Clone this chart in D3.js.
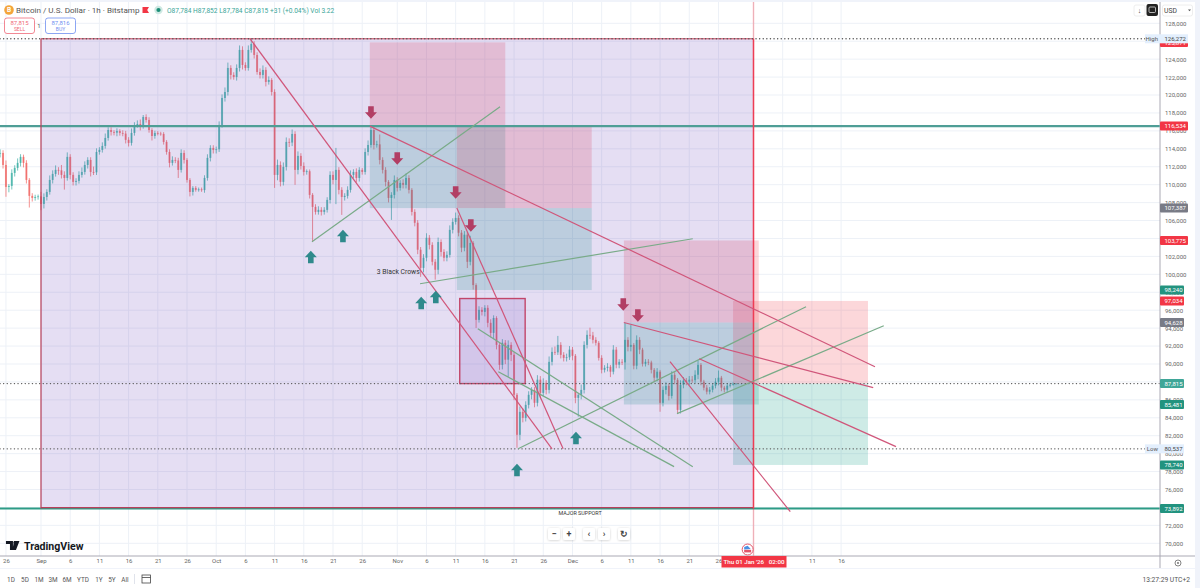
<!DOCTYPE html>
<html>
<head>
<meta charset="utf-8">
<script src="https://cdn.jsdelivr.net/npm/d3@7"></script>
<style>
  html, body { margin: 0; padding: 0; background: #f0f3fa; overflow: hidden; }
  svg { display: block; font-family: Roboto, sans-serif; }
</style>
</head>
<body>
<svg id="chart" width="1200" height="588"></svg>
<script>
// 12h candles starting 25 Aug
const firstDay = -7;
const stepDays = 0.5;
const closes = [
  113540,112200,109750,109860,111310,111870,112430,113100,112430,110530,
  108750,108520,108630,108700,107850,108630,109190,110530,111200,111650,
  111600,111090,110750,113100,111090,110310,110420,111090,111420,112200,
  112760,111420,111380,113650,113880,114320,115210,116100,115880,115800,
  115990,115770,115700,115000,114660,115770,116660,116770,116550,117550,
  117220,116100,115430,115770,115700,115660,114770,113650,112430,112760,
  112700,111650,113540,112760,110530,109190,109640,109420,109480,109400,
  110750,112990,114100,113880,113950,116660,119670,120340,123020,122240,
  122010,123020,125030,123350,123020,125030,125700,124470,122570,122240,
  122800,121460,121680,120340,111090,112200,110310,111980,114770,114700,
  115660,111650,113210,112090,111420,111500,108860,107520,106960,107190,
  106960,107190,108300,111090,110530,111650,109420,108630,108750,109420,
  111090,111420,110750,111650,111420,113650,114430,116100,114430,114500,
  112760,111650,110310,108520,108860,110530,109640,110200,109980,110750,
  109420,106960,105750,102745,100720,101850,104080,103280,101400,100510,
  103600,102500,101850,102170,104960,105850,106290,104640,102970,104420,
  101400,103500,98800,94920,96040,95810,96260,94590,93470,95130,
  92130,89900,92370,90480,92130,91020,86560,82100,84660,83990,
  85440,86560,87110,85670,88250,86780,87900,87110,90240,91350,
  91300,92130,91020,90680,90750,91600,90910,86220,86560,87110,
  92130,93250,93180,92690,92360,90680,89350,89570,89690,89140,
  91600,89920,90240,90180,92690,91910,92130,89810,92690,91600,
  90020,90240,90170,89350,88470,89140,85670,87110,87560,86440,
  88790,88240,84880,87690,88140,88030,88250,88190,88800,89900,
  88030,87360,86910,87130,87580,88020,88470,87360,87130,87580,
  87690,87800,87815
];
const wickUp = [
  400,300,500,200,400,300,500,300,250,300,
  200,300,250,200,500,400,300,500,400,500,
  300,600,400,500,300,300,300,400,500,400,
  300,300,600,400,300,400,500,300,300,200,
  300,200,300,300,300,500,300,400,500,220,
  300,300,200,250,200,200,200,200,300,400,
  300,300,400,300,200,200,200,200,200,200,
  300,400,300,300,300,400,400,500,600,300,
  300,400,500,400,300,500,570,300,300,400,
  500,300,400,200,300,600,400,500,500,400,
  500,300,500,300,400,200,200,200,300,400,
  300,300,300,400,400,2450,300,300,300,400,
  500,300,400,300,200,400,500,300,400,400,
  1100,300,300,200,300,500,300,300,400,500,
  300,200,300,300,300,400,500,300,300,300,
  500,300,300,400,500,400,600,300,300,400,
  300,800,200,200,400,300,300,300,400,300,
  200,200,400,300,500,300,300,200,600,400,
  400,400,300,300,500,400,500,300,600,500,
  600,1000,300,300,400,400,300,200,200,600,
  400,500,800,400,300,200,300,300,400,200,
  500,300,300,300,1900,300,2200,200,500,300,
  200,300,300,200,200,400,200,400,400,300,
  400,300,200,500,400,300,400,400,500,500,
  200,200,300,300,300,400,800,200,200,300,
  200,150,40
];
const wickDown = [
  500,400,1100,600,400,400,300,400,500,400,
  1300,400,300,300,700,500,400,300,400,300,
  500,400,1300,300,500,400,400,300,300,300,
  400,500,300,300,300,300,300,300,400,300,
  400,300,300,400,400,300,300,300,500,300,
  300,300,500,300,200,200,300,300,500,300,
  300,900,300,400,300,500,400,200,200,200,
  300,300,400,400,400,300,300,400,400,500,
  300,400,400,500,300,300,300,400,300,400,
  400,500,300,400,1450,600,500,400,400,500,
  400,1670,500,400,400,300,400,3900,300,300,
  400,300,300,400,500,2700,500,2000,400,300,
  300,400,500,400,300,300,400,300,500,300,
  500,400,500,500,2450,400,400,300,400,400,
  400,400,400,500,1000,500,400,500,400,1100,
  500,500,400,400,300,400,300,400,500,400,
  700,400,500,900,300,400,500,500,500,700,
  500,550,500,500,1900,700,600,1450,600,500,
  400,400,500,500,400,600,400,500,400,400,
  300,300,400,400,400,300,500,600,2100,500,
  400,400,400,400,300,300,400,300,400,600,
  300,400,400,300,800,500,500,400,400,500,
  300,300,300,400,500,400,1000,400,500,500,
  300,500,400,400,400,400,400,300,300,500,
  400,300,300,300,300,300,400,400,300,300,
  200,100,40
];

// drawn objects, days are counted from 1 Sep, [day, price, day, price]
const redLines = [
  [35.8, 126272, 87.5, 80537],
  [71.2, 107387, 89.4, 80537],
  [56.3, 116534, 142.8, 89700],
  [99.8, 94628, 142.5, 87360],
  [112.7, 90590, 146.4, 80780],
  [107.7, 90260, 128.3, 73530]
];
const greenLines = [
  [46.4, 103640, 78.6, 118690],
  [64.9, 98950, 111.6, 103970],
  [74.8, 93940, 111.6, 78550],
  [78.3, 89140, 108.4, 78550],
  [81.7, 80537, 131, 96390],
  [108.9, 84460, 144.3, 94270]
];
// [start day, end day, stop price, entry price, target price]
const shortPositions = [
  [56.3, 79.5, 125871, 116534, 107387],
  [71.2, 94.3, 116534, 107387, 98240],
  [99.8, 122.9, 103775, 94628, 85481],
  [118.5, 141.6, 97034, 87815, 78740]
];
const downArrows = [[56.5, 118020], [61, 112890], [71, 109100], [73.6, 105420], [99.7, 96610], [102.2, 95390]];
const upArrows = [[46.2, 101970], [51.7, 104310], [65.1, 96840], [67.6, 97500], [81.5, 78210], [91.6, 81780]];

const priceTicks = d3.range(70000, 128001, 2000);
const dayTicks = [-6, 0, 5, 10, 15, 20, 25, 30, 35, 40, 45, 50, 55, 61, 66, 71, 76, 81, 86, 91, 96, 101, 106, 111, 116, 122, 127, 132, 137];
// Jan and its 6 sit under the crosshair label in the picture
const dayLabels = ['26', 'Sep', '6', '11', '16', '21', '26', 'Oct', '6', '11', '16', '21', '26', 'Nov', '6', '11', '16', '21', '26', 'Dec', '6', '11', '16', '21', '26', '', '', '11', '16'];
// price flags on the right axis [price, kind]
const priceFlags = [
  [125871, 'red'], [116534, 'red'], [107387, 'grey'], [103775, 'red'], [98240, 'green'],
  [97034, 'red'], [94628, 'grey'], [87815, 'last'], [85481, 'green'], [78740, 'green'], [73892, 'green']
];
const rangeLabels = ['1D', '5D', '1M', '3M', '6M', 'YTD', '1Y', '5Y', 'All'];
const rangeX = [11, 25, 39, 53, 67, 83, 99, 112, 125];

const highPrice = 126272, lowPrice = 80537, lastPrice = 87815;
const supportTop = 116534, supportBottom = 73892;
const boxDays = [0, 122];
const squareDays = [71.7, 82.9];
const squarePrices = [87815, 97300];

const paneRight = 1160, paneBottom = 556;
const x = d3.scaleLinear().domain([0, 122]).range([41, 753.5]);
const y = d3.scaleLinear().domain([70000, 128000]).range([543.3, 23.3]);
const fmt = d3.format(',');

const svg = d3.select('#chart');
svg.append('rect').attr('x', 0).attr('y', 2).attr('width', 1195).attr('height', 586).attr('fill', '#fff');

const defs = svg.append('defs');
defs.append('clipPath').attr('id', 'pane').append('rect')
  .attr('x', 0).attr('y', 0).attr('width', paneRight).attr('height', paneBottom);
defs.append('filter').attr('id', 'soft').append('feDropShadow')
  .attr('dx', 0).attr('dy', 0.5).attr('stdDeviation', 1).attr('flood-color', '#000').attr('flood-opacity', 0.2);

const pane = svg.append('g').attr('clip-path', 'url(#pane)');

// grid
const gridColor = '#edf1f7';
pane.append('g').selectAll('line').data(priceTicks).enter().append('line')
  .attr('x1', 0).attr('x2', paneRight)
  .attr('y1', d => y(d)).attr('y2', d => y(d))
  .attr('stroke', gridColor);
pane.append('g').selectAll('line').data(dayTicks).enter().append('line')
  .attr('x1', d => x(d)).attr('x2', d => x(d))
  .attr('y1', 2).attr('y2', paneBottom)
  .attr('stroke', gridColor);

// candles
const candles = closes.map((c, i) => {
  const open = i ? closes[i - 1] : c;
  return {
    day: firstDay + i * stepDays,
    open,
    close: c,
    high: Math.max(open, c) + wickUp[i],
    low: Math.min(open, c) - wickDown[i]
  };
});
const candleColor = d => d.close >= d.open ? '#26a69a' : '#ef5350';
const candleGroup = pane.append('g');
candleGroup.selectAll('line').data(candles).enter().append('line')
  .attr('x1', d => x(d.day)).attr('x2', d => x(d.day))
  .attr('y1', d => y(d.high)).attr('y2', d => y(d.low))
  .attr('stroke', candleColor).attr('stroke-width', 0.9).attr('opacity', 0.7);
candleGroup.selectAll('rect').data(candles).enter().append('rect')
  .attr('x', d => x(d.day) - 1).attr('width', 2)
  .attr('y', d => y(Math.max(d.open, d.close)))
  .attr('height', d => Math.max(0.8, Math.abs(y(d.open) - y(d.close))))
  .attr('fill', candleColor).attr('opacity', 0.6);

// short positions, they lie under the purple box
shortPositions.forEach(p => {
  pane.append('rect')
    .attr('x', x(p[0])).attr('width', x(p[1]) - x(p[0]))
    .attr('y', y(p[2])).attr('height', y(p[3]) - y(p[2]))
    .attr('fill', 'rgba(242,54,69,0.2)');
  pane.append('rect')
    .attr('x', x(p[0])).attr('width', x(p[1]) - x(p[0]))
    .attr('y', y(p[3])).attr('height', y(p[4]) - y(p[3]))
    .attr('fill', 'rgba(8,153,129,0.2)');
});

// big purple box
pane.append('rect')
  .attr('x', x(boxDays[0])).attr('width', x(boxDays[1]) - x(boxDays[0]))
  .attr('y', y(highPrice)).attr('height', y(supportBottom) - y(highPrice))
  .attr('fill', 'rgba(103,58,183,0.17)');

// small square
pane.append('rect')
  .attr('x', x(squareDays[0])).attr('width', x(squareDays[1]) - x(squareDays[0]))
  .attr('y', y(squarePrices[1])).attr('height', y(squarePrices[0]) - y(squarePrices[1]))
  .attr('fill', 'rgba(103,58,183,0.14)')
  .attr('stroke', '#c2466a').attr('stroke-width', 1.4);

// horizontal levels
pane.append('line').attr('x1', 0).attr('x2', paneRight)
  .attr('y1', y(supportTop)).attr('y2', y(supportTop))
  .attr('stroke', '#4f9e96').attr('stroke-width', 2.4);
pane.append('line').attr('x1', 0).attr('x2', paneRight)
  .attr('y1', y(supportBottom)).attr('y2', y(supportBottom))
  .attr('stroke', '#2d9c86').attr('stroke-width', 2);

// box outline, drawn over the levels
const boxX0 = x(boxDays[0]), boxX1 = x(boxDays[1]);
pane.append('line').attr('x1', boxX0).attr('x2', boxX0)
  .attr('y1', y(highPrice)).attr('y2', y(supportBottom)).attr('stroke', '#b8405a').attr('stroke-width', 1.2);
pane.append('line').attr('x1', boxX0).attr('x2', boxX1)
  .attr('y1', y(highPrice)).attr('y2', y(highPrice)).attr('stroke', '#c9405a').attr('stroke-width', 1);
pane.append('line').attr('x1', boxX0).attr('x2', boxX1)
  .attr('y1', y(supportBottom) - 0.8).attr('y2', y(supportBottom) - 0.8).attr('stroke', '#b8405a').attr('stroke-width', 1.2);

// crosshair at box edge
pane.append('line').attr('x1', boxX1).attr('x2', boxX1).attr('y1', 2).attr('y2', paneBottom)
  .attr('stroke', 'rgba(242,54,69,0.35)').attr('stroke-width', 1.4);
pane.append('line').attr('x1', boxX1).attr('x2', boxX1)
  .attr('y1', y(highPrice)).attr('y2', y(supportBottom)).attr('stroke', '#ee3d55').attr('stroke-width', 1.4);

// dotted high, low, last
[highPrice, lowPrice, lastPrice].forEach(p => {
  pane.append('line').attr('x1', 0).attr('x2', paneRight)
    .attr('y1', y(p)).attr('y2', y(p))
    .attr('stroke', '#555').attr('stroke-width', 1.4)
    .attr('stroke-linecap', 'round').attr('stroke-dasharray', '0.1 3.5');
});

// trend lines
const drawLines = (rows, color, w) => {
  pane.append('g').selectAll('line').data(rows).enter().append('line')
    .attr('x1', d => x(d[0])).attr('y1', d => y(d[1]))
    .attr('x2', d => x(d[2])).attr('y2', d => y(d[3]))
    .attr('stroke', color).attr('stroke-width', w);
};
drawLines(greenLines, '#79ab88', 1.2);
drawLines(redLines, '#d0567a', 1.2);

// arrows
const downShape = 'M-2.8,-6.5H2.8V-0.5H6L0,6L-6,-0.5H-2.8Z';
const upShape = 'M-2.8,6.5H2.8V0.5H6L0,-6L-6,0.5H-2.8Z';
pane.append('g').selectAll('path').data(downArrows).enter().append('path')
  .attr('d', downShape).attr('fill', '#b23e64')
  .attr('transform', d => `translate(${x(d[0])},${y(d[1])})`);
pane.append('g').selectAll('path').data(upArrows).enter().append('path')
  .attr('d', upShape).attr('fill', '#2f8a8c')
  .attr('transform', d => `translate(${x(d[0])},${y(d[1])})`);

// notes
pane.append('text').attr('x', x(57.5)).attr('y', y(100290)).attr('dy', 2.5)
  .attr('font-size', 6.8).attr('fill', '#333').text('3 Black Crows');
pane.append('text').attr('x', x(92.3)).attr('y', y(73420)).attr('dy', 2)
  .attr('text-anchor', 'middle').attr('font-size', 5.4).attr('fill', '#333').text('MAJOR SUPPORT');

// watermark logo
const logo = pane.append('g').attr('transform', `translate(${x(-6)},541)`);
logo.append('path').attr('d', 'M0,0H7V9H4V3H0Z M8,0H13.5L10,9H6.5Z').attr('fill', '#131722');
logo.append('circle').attr('cx', 9).attr('cy', 1.5).attr('r', 1.4).attr('fill', '#131722');
logo.append('text').attr('x', 18).attr('y', 9).attr('font-size', 10.6).attr('font-weight', 700)
  .attr('fill', '#131722').text('TradingView');

// zoom buttons
const zoomBtns = [[554, '\u2212'], [569, '+'], [589, '\u2039'], [604, '\u203A'], [624, '\u21BB']];
const btn = pane.append('g').selectAll('g').data(zoomBtns).enter().append('g')
  .attr('transform', d => `translate(${d[0]},534)`);
btn.append('rect').attr('x', -6).attr('y', -6).attr('width', 12).attr('height', 12).attr('rx', 2)
  .attr('fill', '#fff').attr('filter', 'url(#soft)');
btn.append('text').attr('text-anchor', 'middle').attr('y', 3).attr('font-size', 9)
  .attr('font-weight', 700).attr('fill', '#444').text(d => d[1]);

// event badge
const badge = pane.append('g').attr('transform', `translate(${x(121)},549.5)`);
badge.append('circle').attr('r', 5.5).attr('fill', '#fff').attr('stroke', '#e2556a').attr('stroke-width', 1);
badge.append('rect').attr('x', -3.5).attr('y', 0.3).attr('width', 7).attr('height', 2.6).attr('fill', '#e2556a');
badge.append('path').attr('d', 'M-3.5,0V-2.5L0,-3.8L3,-0.4Z').attr('fill', '#4a90e2');

// price axis
const priceAxis = svg.append('g').attr('transform', `translate(${paneRight},0)`)
  .call(d3.axisRight(y).tickValues(priceTicks).tickSize(0).tickPadding(5).tickFormat(fmt));
priceAxis.select('.domain').remove();
priceAxis.selectAll('text').attr('font-size', 6).attr('font-family', 'Roboto, sans-serif').attr('fill', '#666');

// time axis
const timeAxis = svg.append('g').attr('transform', `translate(0,${paneBottom})`)
  .call(d3.axisBottom(x).tickValues(dayTicks).tickSize(0).tickPadding(3)
    .tickFormat((d, i) => dayLabels[i]));
timeAxis.select('.domain').remove();
timeAxis.selectAll('text').attr('font-size', 6).attr('font-family', 'Roboto, sans-serif').attr('fill', '#666');

// axis borders
svg.append('line').attr('x1', paneRight).attr('x2', paneRight).attr('y1', 2).attr('y2', 568)
  .attr('stroke', '#aaa9b4').attr('stroke-width', 1);
svg.append('line').attr('x1', 0).attr('x2', 1195).attr('y1', paneBottom).attr('y2', paneBottom)
  .attr('stroke', '#aaa9b4').attr('stroke-width', 1);

// price flags
const flagColors = { red: '#f23645', grey: '#787b86', green: '#22937f', last: '#3fa698' };
const flags = svg.append('g').selectAll('g').data(priceFlags).enter().append('g')
  .attr('transform', d => `translate(${paneRight},${y(d[0])})`);
flags.append('rect').attr('x', 0).attr('y', -4.5).attr('height', 9).attr('rx', 1)
  .attr('width', d => d[0] >= 100000 ? 28 : 24)
  .attr('fill', d => flagColors[d[1]]);
flags.append('text').attr('x', 4.5).attr('y', 2.2).attr('font-size', 6).attr('fill', '#fff')
  .text(d => fmt(d[0]));

// high and low tags
[['High', highPrice, 28], ['Low', lowPrice, 24]].forEach(t => {
  const g = svg.append('g').attr('transform', `translate(${paneRight},${y(t[1])})`);
  g.append('rect').attr('x', -15).attr('y', -4.5).attr('height', 9).attr('width', 15 + t[2]).attr('fill', '#e3effd');
  g.append('text').attr('x', -2).attr('y', 2.2).attr('text-anchor', 'end').attr('font-size', 6).attr('fill', '#555').text(t[0]);
  g.append('text').attr('x', 4.5).attr('y', 2.2).attr('font-size', 6).attr('fill', '#444').text(fmt(t[1]));
});

// crosshair time label
svg.append('rect').attr('x', x(122) - 32).attr('y', paneBottom).attr('width', 65).attr('height', 11.5).attr('fill', '#f23645');
svg.append('text').attr('x', x(122) + 0.5).attr('y', paneBottom + 8).attr('text-anchor', 'middle')
  .attr('font-size', 6.2).attr('font-weight', 500).attr('fill', '#fff').attr('xml:space', 'preserve')
  .text("Thu 01 Jan '26   02:00");

// header
svg.append('circle').attr('cx', 9).attr('cy', 10).attr('r', 4.8).attr('fill', '#f4a53a');
svg.append('text').attr('x', 9).attr('y', 12.3).attr('text-anchor', 'middle').attr('font-size', 6.5).attr('font-weight', 700).attr('fill', '#fff').text('B');
svg.append('text').attr('x', 16).attr('y', 13).attr('font-size', 8.1).attr('fill', '#555').text('Bitcoin / U.S. Dollar \u00B7 1h \u00B7 Bitstamp');
svg.append('path').attr('d', 'M142.5,7H149L147.2,10L149,13H142.5Z').attr('fill', '#f23645');
svg.append('circle').attr('cx', 158.5).attr('cy', 10).attr('r', 4.2).attr('fill', '#cfe9e3');
svg.append('circle').attr('cx', 158.5).attr('cy', 10).attr('r', 2.1).attr('fill', '#1d8f78');
svg.append('text').attr('x', 167).attr('y', 12.6).attr('font-size', 6.6).attr('fill', '#3aa598')
  .text('O87,784 H87,852 L87,784 C87,815 +31 (+0.04%) Vol 3.22');

const quoteBox = (bx, color, val, label) => {
  svg.append('rect').attr('x', bx).attr('y', 18).attr('width', 30).attr('height', 15.5).attr('rx', 2.5)
    .attr('fill', '#fff').attr('stroke', color).attr('stroke-width', 0.8);
  svg.append('text').attr('x', bx + 15).attr('y', 24.5).attr('text-anchor', 'middle').attr('font-size', 6).attr('fill', color).text(val);
  svg.append('text').attr('x', bx + 15).attr('y', 31.3).attr('text-anchor', 'middle').attr('font-size', 5).attr('fill', color).text(label);
};
quoteBox(4.5, '#ef6a78', '87,815', 'SELL');
quoteBox(45.5, '#6f8ff0', '87,816', 'BUY');
svg.append('text').attr('x', 39).attr('y', 28).attr('text-anchor', 'middle').attr('font-size', 6).attr('fill', '#555').text('1');

// top right controls
svg.append('rect').attr('x', 1134).attr('y', 5).attr('width', 11).attr('height', 11).attr('rx', 2).attr('fill', '#fff').attr('stroke', '#eee');
svg.append('text').attr('x', 1139.5).attr('y', 13).attr('text-anchor', 'middle').attr('font-size', 7).attr('fill', '#444').text('\u2193');
svg.append('rect').attr('x', 1146.5).attr('y', 4).attr('width', 11.5).attr('height', 12).attr('rx', 2).attr('fill', '#222');
svg.append('rect').attr('x', 1149).attr('y', 7).attr('width', 6.5).attr('height', 5.5).attr('rx', 1).attr('fill', 'none').attr('stroke', '#ddd').attr('stroke-width', 0.8);
svg.append('rect').attr('x', 1162.5).attr('y', 5).attr('width', 30).attr('height', 11).attr('rx', 2).attr('fill', '#fff').attr('stroke', '#eee');
svg.append('text').attr('x', 1164).attr('y', 12.8).attr('font-size', 6.8).attr('fill', '#444').text('USD');
svg.append('path').attr('d', 'M1188,9.5H1191L1189.5,11.2Z').attr('fill', '#555');

// settings icon on the axis corner
svg.append('circle').attr('cx', 1178).attr('cy', 563).attr('r', 3).attr('fill', 'none').attr('stroke', '#666').attr('stroke-width', 0.8);
svg.append('circle').attr('cx', 1178).attr('cy', 563).attr('r', 0.9).attr('fill', '#666');

// bottom bar
svg.append('line').attr('x1', 0).attr('x2', 1195).attr('y1', 568.5).attr('y2', 568.5).attr('stroke', '#f0f3fa');
svg.append('g').selectAll('text').data(rangeLabels).enter().append('text')
  .attr('x', (d, i) => rangeX[i]).attr('y', 581.5).attr('text-anchor', 'middle')
  .attr('font-size', 6.4).attr('fill', '#555').text(d => d);
svg.append('line').attr('x1', 134.5).attr('x2', 134.5).attr('y1', 574).attr('y2', 584).attr('stroke', '#e0e3eb');
svg.append('rect').attr('x', 142).attr('y', 575).attr('width', 8.5).attr('height', 8).attr('fill', 'none').attr('stroke', '#444').attr('stroke-width', 0.8);
svg.append('line').attr('x1', 142).attr('x2', 150.5).attr('y1', 577.5).attr('y2', 577.5).attr('stroke', '#444').attr('stroke-width', 0.8);
svg.append('text').attr('x', 1190).attr('y', 581.5).attr('text-anchor', 'end').attr('font-size', 6.7).attr('fill', '#555').text('13:27:29 UTC+2');
</script>
</body>
</html>
